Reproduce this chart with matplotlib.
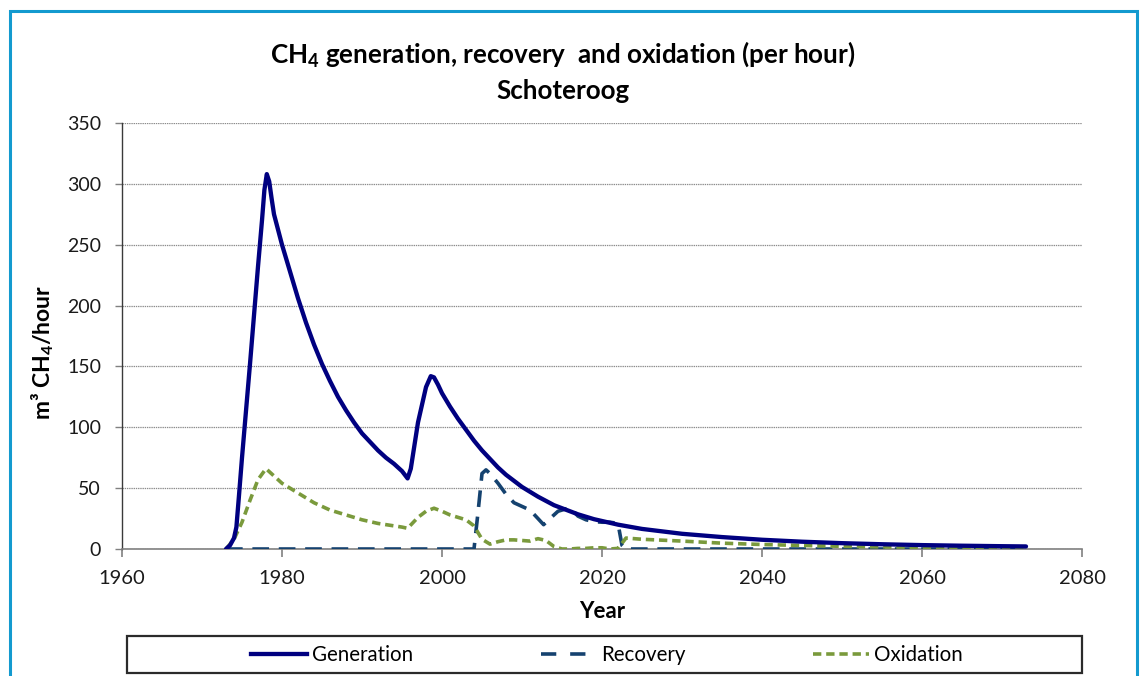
import matplotlib
matplotlib.use("Agg")
import matplotlib.pyplot as plt
from matplotlib.patches import Rectangle
from matplotlib.lines import Line2D

plt.rcParams['font.family'] = ['Lato', 'DejaVu Sans']
plt.rcParams['mathtext.fontset'] = 'custom'
plt.rcParams['mathtext.rm'] = 'Lato'
plt.rcParams['mathtext.bf'] = 'Lato:bold'
plt.rcParams['lines.scale_dashes'] = False

# ---- data ----
gen_years = [1973, 1973.5, 1974, 1974.3, 1974.6, 1975, 1976, 1977, 1977.5, 1977.8, 1978.1,
             1978.4, 1978.7, 1979, 1980, 1981, 1982, 1983,
             1984, 1985, 1986, 1987, 1988, 1989, 1990, 1991, 1992, 1993, 1994, 1995,
             1995.7, 1996.1, 1997, 1998, 1998.6, 1999, 1999.5, 2000, 2001, 2002, 2003, 2004,
             2005, 2006, 2007, 2008, 2009, 2010, 2011, 2012, 2013, 2014, 2015, 2016,
             2017, 2018, 2019, 2020, 2022, 2025, 2030, 2035, 2040, 2045, 2050, 2055,
             2060, 2065, 2070, 2073]
gen_values = [0, 3, 9, 18, 42, 75, 152, 232, 270, 295, 308,
              302, 288, 275, 250, 228, 206, 186,
              168, 152, 138, 125, 114, 104, 95, 88, 81, 75, 70, 64,
              58, 66, 104, 133, 142, 141, 135, 128, 117, 107, 98, 89,
              81, 74, 67, 61, 56, 51, 47, 43, 39.5, 36, 33.5, 31,
              28.5, 26.5, 24.5, 23, 20, 16.5, 12.5, 9.8, 7.6, 6, 4.8, 3.9,
              3.2, 2.7, 2.3, 2.1]

rec_years = [1973, 2004, 2004.5, 2005, 2005.5, 2006, 2007, 2008, 2009, 2010, 2011, 2012,
             2012.7, 2013.5, 2014.5, 2016, 2017, 2018, 2019, 2020, 2021, 2022, 2022.5,
             2023, 2073]
rec_values = [0, 0, 30, 62, 65, 62, 54, 45, 38, 35, 32, 25,
              20, 25, 31, 34, 27, 24, 22.5, 22, 22, 21, 3,
              0, 0]

oxi_years = [1973, 1974, 1975, 1976, 1977, 1978, 1979, 1980, 1981, 1982, 1983, 1984, 1985,
             1986, 1987, 1988, 1989, 1990, 1991, 1992, 1993, 1994, 1995, 1995.7, 1997,
             1998, 1999, 2000, 2001, 2002, 2003, 2004, 2005, 2006, 2007, 2008, 2009,
             2010, 2011, 2012, 2013, 2014, 2015, 2016, 2017, 2018, 2019, 2020, 2021,
             2022, 2023, 2025, 2030, 2035, 2040, 2045, 2050, 2055, 2060, 2065, 2070, 2073]
oxi_values = [0, 8, 22, 40, 57, 66, 60, 54, 50, 46, 42, 38, 35,
              32, 30, 28, 26, 24, 22.5, 21, 20, 19, 18, 17, 26,
              31, 33.5, 31, 28, 26, 24, 19, 8, 4, 6, 7.5, 7.5,
              7, 6.5, 8.5, 7, 2, 0, 0, 0.5, 0.5, 1, 1, 0,
              0.5, 9, 8, 6.5, 4.8, 3.7, 2.9, 2.2, 1.7, 1.4, 1.1, 0.9, 0.8]

x_ticks = [1960, 1980, 2000, 2020, 2040, 2060, 2080]
y_ticks = [0, 50, 100, 150, 200, 250, 300, 350]

W, H = 1140, 676
fig = plt.figure(figsize=(W / 100, H / 100), dpi=100)

# outer blue border
fig.patches.append(Rectangle((10 / W, -0.05), (1137 - 10) / W, 1.05 - 11 / H,
                             transform=fig.transFigure, fill=False,
                             edgecolor='#139ACF', linewidth=2.2, zorder=0))

ax = fig.add_axes([122 / W, 1 - 549 / H, 960 / W, 426 / H])

c_gen = '#000080'
c_rec = '#15426F'
c_oxi = '#7A9A3C'

l_gen, = ax.plot(gen_years, gen_values, color=c_gen, lw=3.1, solid_joinstyle='round',
                 solid_capstyle='round', zorder=4)
l_rec, = ax.plot(rec_years, rec_values, color=c_rec, lw=2.6, dashes=(12, 7),
                 dash_capstyle='butt', zorder=3)
l_oxi, = ax.plot(oxi_years, oxi_values, color=c_oxi, lw=2.6, dashes=(6, 3.5),
                 dash_capstyle='butt', zorder=3)

ax.set_xlim(1960, 2080)
ax.set_ylim(0, 350)
ax.set_xticks(x_ticks)
ax.set_yticks(y_ticks)
ax.yaxis.grid(True, color='#8c8c8c', linestyle=(0, (1, 0.6)), linewidth=0.9)
ax.set_axisbelow(True)

for s in ['top', 'right']:
    ax.spines[s].set_visible(False)
ax.spines['left'].set_color('#3a3a3a')
ax.spines['left'].set_linewidth(1.0)
ax.spines['bottom'].set_color('#808080')
ax.spines['bottom'].set_linewidth(1.2)
ax.tick_params(axis='y', direction='out', length=5, width=1, color='#808080',
               pad=10, labelsize=14, labelcolor='#1a1a1a')
ax.tick_params(axis='x', direction='out', length=6, width=1.2, color='#808080',
               pad=9, labelsize=14.5, labelcolor='#1a1a1a')

# titles
fig.text(563 / W, 1 - 54 / H, r'CH$_\mathbf{4}$ generation, recovery  and oxidation (per hour)',
         ha='center', va='center', fontsize=18.7, fontweight='bold')
fig.text(563 / W, 1 - 91 / H, 'Schoteroog', ha='center', va='center',
         fontsize=18.7, fontweight='bold')

fig.text(602 / W, 1 - 611 / H, 'Year', ha='center', va='center', fontsize=16,
         fontweight='bold')
fig.text(43 / W, 1 - 352 / H, r'm³ CH$_\mathbf{4}$/hour', ha='center', va='center',
         rotation=90, fontsize=16.5, fontweight='bold')

# legend box
fig.patches.append(Rectangle((127 / W, 1 - 673 / H), (1082 - 127) / W, (673 - 636) / H,
                             transform=fig.transFigure, fill=False,
                             edgecolor='#2b2b2b', linewidth=1.6, zorder=5))
h_gen = Line2D([], [], color=c_gen, lw=3.1)
h_rec = Line2D([], [], color=c_rec, lw=2.6, dashes=(11, 10))
h_oxi = Line2D([], [], color=c_oxi, lw=2.6, dashes=(6, 3.5))
fig.legend([h_gen, h_rec, h_oxi], ['Generation', 'Recovery', 'Oxidation'],
           loc='center', bbox_to_anchor=(607 / W, 1 - 655 / H), ncol=3, frameon=False,
           fontsize=14.8, handlelength=2.7, handletextpad=0.25, columnspacing=6.2,
           borderpad=0, borderaxespad=0)

fig.savefig('out.png', dpi=100)
